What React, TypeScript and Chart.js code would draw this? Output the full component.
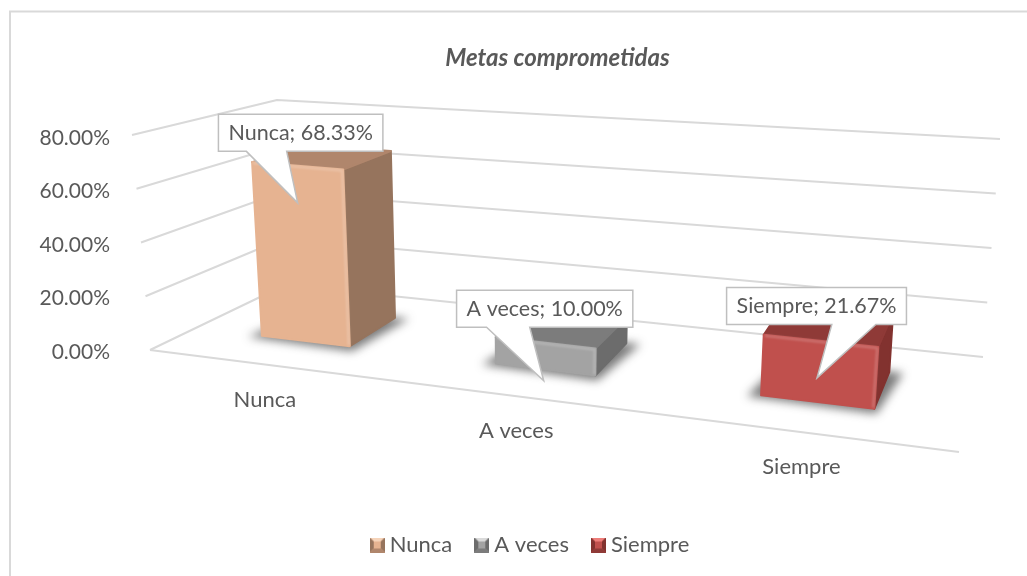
import React, { useEffect, useRef } from "react";
import { Chart, registerables } from "chart.js";

Chart.register(...registerables);

// ---- data ----
const categories = ["Nunca", "A veces", "Siempre"];
const percentages = [68.33, 10.0, 21.67];
const yMax = 80;
const yStep = 20;
const title = "Metas comprometidas";

// ---- styling ----
const frontColors = ["#E6B391", "#A3A3A3", "#C0504D"];
const sideColors = ["#96745D", "#6C6C6C", "#82322F"];
const topColors = ["#B0866C", "#7C7C7C", "#8F3A37"];
const legendLight = ["#F6D4BA", "#DADADA", "#EE7E7A"];
const FONT = "Lato, 'Noto Sans', sans-serif";
const TEXT = "#595959";
const GRID = "#D9D9D9";

// the 3-D box of the plot as seen on screen (u: left-right, v: up, w: depth)
const box = {
  flb: [150, 350], flt: [132, 135],
  blb: [285, 285], blt: [277, 100],
  brb: [983, 357], brt: [1000, 139],
  frb: [959, 452], frt: [979, 207],
};
const perspective = -0.173;
const barDepth = [0.34, 0.74];
const barHeightFactor = 0.98;
const labelNudge = [[3, 0], [-1, -1], [-4.5, -2]];
const tipNudge = [[0, 0], [-2, 1], [-4, 0]];
const calloutOnRight = [false, false, true];

type P = [number, number];
function project(t: number, v: number, w: number): P {
  const u = (t * (1 + perspective)) / (1 + perspective * t);
  const lerp = (a: number[], b: number[], k: number) => [a[0] + (b[0] - a[0]) * k, a[1] + (b[1] - a[1]) * k];
  const bottom = lerp(lerp(box.flb, box.frb, u), lerp(box.blb, box.brb, u), w);
  const top = lerp(lerp(box.flt, box.frt, u), lerp(box.blt, box.brt, u), w);
  const p = lerp(bottom, top, v);
  return [p[0], p[1]];
}

function poly(ctx: CanvasRenderingContext2D, pts: P[]) {
  ctx.beginPath();
  pts.forEach((p, i) => (i ? ctx.lineTo(p[0], p[1]) : ctx.moveTo(p[0], p[1])));
  ctx.closePath();
}

function swatch(i: number) {
  const s = 15;
  const c = document.createElement("canvas");
  c.width = s;
  c.height = s;
  const g = c.getContext("2d")!;
  const b = 4;
  g.fillStyle = frontColors[i];
  g.fillRect(0, 0, s, s);
  const face = (pts: P[], col: string) => { poly(g, pts); g.fillStyle = col; g.fill(); };
  face([[0, 0], [s, 0], [s - b, b], [b, b]], legendLight[i]);
  face([[0, 0], [b, b], [b, s - b], [0, s]], sideColors[i]);
  face([[s, 0], [s - b, b], [s - b, s - b], [s, s]], sideColors[i]);
  face([[0, s], [b, s - b], [s - b, s - b], [s, s]], topColors[i]);
  return c;
}

const scenePlugin = {
  id: "scene",
  afterLayout(chart: any) {
    // the title and legend of the reference are off the page centre
    const t = chart.titleBlock;
    if (t) { t.left += 88; }
    const l = chart.legend;
    if (l) { l.left += 19; l.right += 19; }
  },
  beforeDatasetsDraw(chart: any) {
    const ctx: CanvasRenderingContext2D = chart.ctx;
    const { chartArea: a, scales } = chart;
    const norm = (px: number) => (a.bottom - px) / (a.bottom - a.top);
    ctx.save();
    // frame
    ctx.strokeStyle = GRID;
    ctx.lineWidth = 2;
    ctx.beginPath();
    ctx.moveTo(10, 576);
    ctx.lineTo(10, 11.5);
    ctx.lineTo(1027, 11.5);
    ctx.stroke();
    // grid lines, driven by the value axis
    ctx.lineJoin = "round";
    scales.y.ticks.forEach((tick: any) => {
      const v = norm(scales.y.getPixelForValue(tick.value));
      const pts = [project(0, v, 0), project(0, v, 1), project(1, v, 1)];
      ctx.beginPath();
      pts.forEach((p, i) => (i ? ctx.lineTo(p[0], p[1]) : ctx.moveTo(p[0], p[1])));
      ctx.stroke();
    });
    // floor front edge
    const f0 = project(0, 0, 0), f1 = project(1, 0, 0);
    ctx.beginPath();
    ctx.moveTo(f0[0], f0[1]);
    ctx.lineTo(f1[0], f1[1]);
    ctx.stroke();
    // category labels below the floor edge
    ctx.fillStyle = TEXT;
    ctx.font = `22px ${FONT}`;
    ctx.textAlign = "center";
    ctx.textBaseline = "middle";
    categories.forEach((c, i) => {
      const t = (scales.x.getPixelForValue(i) - a.left) / (a.right - a.left);
      const p = project(t, 0, 0);
      ctx.fillText(c, p[0], p[1] + 35);
    });
    ctx.restore();
  },
  afterDatasetsDraw(chart: any) {
    const ctx: CanvasRenderingContext2D = chart.ctx;
    const { chartArea: a } = chart;
    const meta = chart.getDatasetMeta(0);
    const W = a.right - a.left, H = a.bottom - a.top;
    const [w0, w1] = barDepth;
    const tops: P[] = [];
    ctx.save();
    meta.data.forEach((el: any, i: number) => {
      const t0 = (el.x - el.width / 2 - a.left) / W;
      const t1 = (el.x + el.width / 2 - a.left) / W;
      const v = ((a.bottom - el.y) / H) * barHeightFactor;
      const flb = project(t0, 0, w0), frb = project(t1, 0, w0), brb = project(t1, 0, w1), blb = project(t0, 0, w1);
      const flt = project(t0, v, w0), frt = project(t1, v, w0), brt = project(t1, v, w1), blt = project(t0, v, w1);
      // soft contact shadow on the floor
      ctx.save();
      ctx.filter = "blur(5px)";
      ctx.fillStyle = "rgba(40,40,40,0.62)";
      poly(ctx, [[flb[0] - 14, flb[1] + 1], [frb[0] + 2, frb[1] + 5], [brb[0] + 14, brb[1] + 1], [blb[0], blb[1]]]);
      ctx.fill();
      ctx.restore();
      ctx.save();
      ctx.filter = "blur(0.5px)";
      ctx.lineJoin = "round";
      ctx.lineWidth = 2;
      const face = (pts: P[], col: string) => {
        poly(ctx, pts);
        ctx.fillStyle = col;
        ctx.strokeStyle = col;
        ctx.fill();
        ctx.stroke();
      };
      face([frb, brb, brt, frt], sideColors[i]);
      face([flt, frt, brt, blt], topColors[i]);
      face([flb, frb, frt, flt], frontColors[i]);
      ctx.restore();
      // bevel highlight along the front face's upper and right edges
      ctx.save();
      ctx.filter = "blur(1px)";
      ctx.strokeStyle = "rgba(255,255,255,0.2)";
      ctx.lineWidth = 2.5;
      ctx.lineJoin = "round";
      ctx.beginPath();
      ctx.moveTo(flt[0] + 1, flt[1] + 1);
      ctx.lineTo(frt[0] - 1, frt[1] + 1);
      ctx.lineTo(frb[0] - 1, frb[1] - 1);
      ctx.stroke();
      ctx.restore();
      tops.push([(flt[0] + frt[0]) / 2, (flt[1] + frt[1]) / 2]);
    });
    // callout data labels
    ctx.font = `21.5px ${FONT}`;
    ctx.textAlign = "center";
    ctx.textBaseline = "middle";
    meta.data.forEach((_: any, i: number) => {
      const text = `${categories[i]}; ${percentages[i].toFixed(2)}%`;
      const bw = ctx.measureText(text).width + 20;
      const bh = 37;
      const tip: P = [tops[i][0] + tipNudge[i][0], tops[i][1] + 37 + tipNudge[i][1]];
      const cx = tops[i][0] + labelNudge[i][0];
      const cy = tops[i][1] - 33 + labelNudge[i][1];
      const l = cx - bw / 2, r = cx + bw / 2, t = cy - bh / 2, b = cy + bh / 2;
      const b0 = l + bw * (calloutOnRight[i] ? 0.585 : 0.17);
      const b1 = l + bw * (calloutOnRight[i] ? 0.83 : 0.415);
      poly(ctx, [[l, t], [r, t], [r, b], [b1, b], tip, [b0, b], [l, b]]);
      ctx.fillStyle = "#FFFFFF";
      ctx.fill();
      ctx.strokeStyle = "#BFBFBF";
      ctx.lineWidth = 1.5;
      ctx.lineJoin = "miter";
      ctx.stroke();
      ctx.fillStyle = TEXT;
      ctx.fillText(text, cx, cy);
    });
    ctx.restore();
  },
};

export default function App() {
  const ref = useRef<HTMLCanvasElement>(null);
  useEffect(() => {
    const chart = new Chart(ref.current!, {
      type: "bar",
      data: {
        labels: categories,
        datasets: [
          {
            data: percentages,
            backgroundColor: "rgba(0,0,0,0)",
            borderWidth: 0,
            barPercentage: 0.39,
            categoryPercentage: 1,
          },
        ],
      },
      options: {
        responsive: false,
        animation: false,
        layout: { padding: { bottom: 10 } },
        scales: {
          x: {
            grid: { display: false },
            border: { display: false },
            ticks: { display: false },
            afterFit(s: any) { s.height = 154; },
          },
          y: {
            min: 0,
            max: yMax,
            grid: { display: false, drawTicks: false },
            border: { display: false },
            ticks: {
              stepSize: yStep,
              padding: 5,
              color: TEXT,
              font: { family: FONT, size: 21 },
              callback: (v: any) => `${Number(v).toFixed(2)}%`,
            },
            afterFit(s: any) { s.width = 115; },
          },
        },
        plugins: {
          tooltip: { enabled: false },
          title: {
            display: true,
            text: title,
            color: TEXT,
            font: { family: FONT, size: 24, weight: "bold", style: "italic" },
            padding: { top: 44, bottom: 65 },
          },
          legend: {
            position: "bottom",
            labels: {
              usePointStyle: true,
              pointStyleWidth: 3,
              padding: 28,
              color: TEXT,
              font: { family: FONT, size: 22 },
              generateLabels: () =>
                categories.map((c, i) => ({
                  text: c,
                  pointStyle: swatch(i),
                  fontColor: TEXT,
                  strokeStyle: "transparent",
                  fillStyle: frontColors[i],
                  lineWidth: 0,
                  index: i,
                })),
            },
          },
        },
      } as any,
      plugins: [scenePlugin],
    });
    return () => chart.destroy();
  }, []);
  return <canvas ref={ref} width={1027} height={576} style={{ position: "fixed", left: 0, top: 0 }} />;
}
